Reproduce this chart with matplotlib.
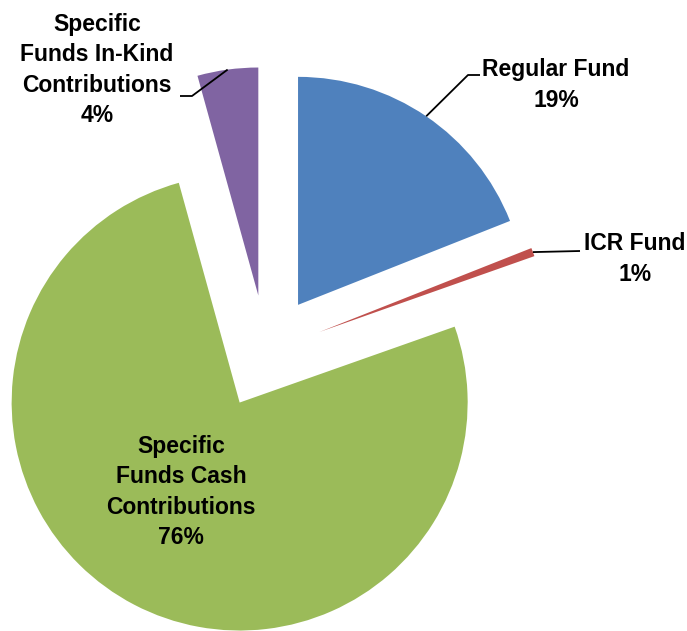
import numpy as np
import matplotlib
matplotlib.use("Agg")
import matplotlib.pyplot as plt

plt.rcParams['font.family'] = ['Liberation Sans', 'DejaVu Sans']

# slice data, clockwise from 12 o'clock
funds = ["Regular Fund", "ICR Fund", "Specific\nFunds Cash\nContributions",
         "Specific\nFunds In-Kind\nContributions"]
shares = [19.0, 0.6, 76.1, 4.3]
pct_labels = ["19%", "1%", "76%", "4%"]
colors = ["#4F81BD", "#C0504D", "#9BBB59", "#8064A2"]

W, H = 687, 631
R_PX = 228.0          # pie radius in pixels
CX, CY = 266, 352     # pie centre in pixels (from top-left)


def px(x, y):
    # pixel position -> data coords (radius 1)
    return (x - CX) / R_PX, (CY - y) / R_PX


fig = plt.figure(figsize=(W / 100, H / 100), dpi=100)
ax = fig.add_axes([0, 0, 1, 1])

wedges, _ = ax.pie(shares, colors=colors, startangle=90, counterclock=False,
                   explode=[0.25] * len(shares), radius=1,
                   wedgeprops=dict(linewidth=0))

ax.set_xlim(-CX / R_PX, (W - CX) / R_PX)
ax.set_ylim((CY - H) / R_PX, CY / R_PX)
ax.set_aspect('auto')
ax.axis('off')

font = dict(fontsize=16.5, fontweight='bold', ha='center', va='center',
            multialignment='center', linespacing=1.42, color='black')

# label text centres and elbow points (pixels)
label_pos = [(556, 85), (635, 259), None, (97, 70)]
elbows = [((480, 75), (468, 75)), ((580, 251), (580, 251)), None,
          ((180, 96), (192, 96))]

for i, w in enumerate(wedges):
    text = funds[i] + "\n" + pct_labels[i]
    if label_pos[i] is None:
        # label inside the big slice
        ax.text(*px(181, 492), text, **font)
        continue
    ax.text(*px(*label_pos[i]), text, **font)
    mid = np.deg2rad((w.theta1 + w.theta2) / 2)
    ex = w.center[0] + w.r * np.cos(mid)
    ey = w.center[1] + w.r * np.sin(mid)
    (x0, y0), (x1, y1) = elbows[i]
    pts = [px(x0, y0), px(x1, y1), (ex, ey)]
    ax.plot([p[0] for p in pts], [p[1] for p in pts], color='black', lw=1.3,
            solid_capstyle='butt')

fig.savefig("out.png", dpi=100)
